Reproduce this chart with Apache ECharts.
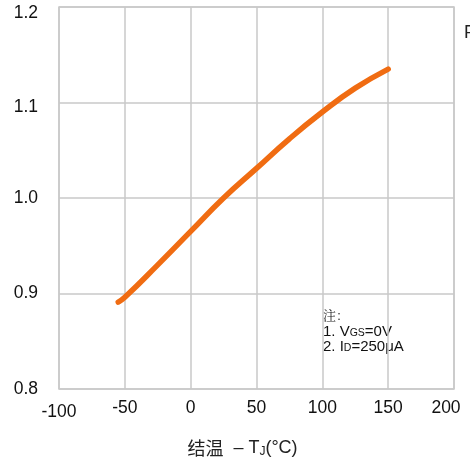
<!DOCTYPE html>
<html>
<head>
<meta charset="utf-8">
<script src="https://cdn.jsdelivr.net/npm/echarts@6/dist/echarts.min.js"></script>
<style>
html,body{margin:0;padding:0;background:#fff;}
#c{width:470px;height:464px;}
</style>
</head>
<body>
<div id="c"></div>
<script>
var temps = [-55, -50, -25, 0, 25, 50, 75, 100, 125, 150];
var ratio = [0.891, 0.896, 0.930, 0.965, 1.000, 1.031, 1.062, 1.090, 1.115, 1.135];
var xTicks = [-100, -50, 0, 50, 100, 150, 200];
var yTicks = [0.8, 0.9, 1.0, 1.1, 1.2];

var chart = echarts.init(document.getElementById('c'));
var font = 'Liberation Sans, Arial, sans-serif';
var fs = 17.5;
chart.setOption({
  animation: false,
  grid: { left: 59, top: 7, right: 16, bottom: 75, show: true, borderColor: '#c8c8c8', borderWidth: 1.5 },
  xAxis: {
    type: 'value', min: xTicks[0], max: xTicks[xTicks.length - 1], interval: 50,
    axisLine: { show: false }, axisTick: { show: false },
    splitLine: { show: true, lineStyle: { color: '#c8c8c8', width: 1.5 } },
    axisLabel: {
      margin: 10, color: '#111', fontSize: fs, fontFamily: font,
      formatter: function (v) {
        if (v === -100) return '{lo|' + v + '}';
        if (v === 200) return '{rt|' + v + '}';
        return '{n|' + v + '}';
      },
      rich: {
        n: { fontSize: fs, fontFamily: font, color: '#111' },
        lo: { fontSize: fs, fontFamily: font, color: '#111', padding: [4, 0, 0, 0] },
        rt: { fontSize: fs, fontFamily: font, color: '#111', padding: [0, 16, 0, 0] }
      }
    },
    name: '{a|结温}{b|  – T}{s|J}{b|(°C)}',
    nameLocation: 'middle', nameGap: 50,
    nameTextStyle: {
      padding: [0, 28, 0, 0],
      rich: {
        a: { fontSize: 18, fontFamily: 'Noto Sans CJK SC, sans-serif', color: '#222' },
        b: { fontSize: 18, fontFamily: font, color: '#222' },
        s: { fontSize: 12, fontFamily: font, color: '#222', padding: [7, 0, 0, 0] }
      }
    }
  },
  yAxis: {
    type: 'value', min: yTicks[0], max: yTicks[yTicks.length - 1], interval: 0.1,
    axisLine: { show: false }, axisTick: { show: false },
    splitLine: { show: true, lineStyle: { color: '#c8c8c8', width: 1.5 } },
    axisLabel: {
      margin: 21, color: '#111', fontSize: fs, fontFamily: font,
      formatter: function (v) {
        var t = v.toFixed(1);
        if (t === '1.2') return '{t2|' + t + '}';
        if (t === '1.1') return '{t1|' + t + '}';
        return '{n|' + t + '}';
      },
      rich: {
        n: { fontSize: fs, fontFamily: font, color: '#111' },
        t1: { fontSize: fs, fontFamily: font, color: '#111', padding: [9, 0, 0, 0] },
        t2: { fontSize: fs, fontFamily: font, color: '#111', padding: [12, 0, 0, 0] }
      }
    }
  },
  series: [{
    type: 'line',
    data: temps.map(function (t, i) { return [t, ratio[i]]; }),
    smooth: true, showSymbol: false,
    lineStyle: { color: '#f06c12', width: 5.5, cap: 'round' }
  }],
  graphic: [
    { type: 'text', left: 323, top: 309, style: { text: '注：', font: '13px "Noto Serif CJK SC", "Noto Sans CJK SC", serif', fill: '#222' } },
    { type: 'text', left: 323, top: 324, style: {
      text: '{a|1. V}{s|GS}{a|=0V}',
      rich: { a: { fontSize: 15, fontFamily: font, fill: '#111' }, s: { fontSize: 10.5, fontFamily: font, fill: '#111', padding: [4, 0, 0, 0] } }
    } },
    { type: 'text', left: 323, top: 339, style: {
      text: '{a|2. I}{s|D}{a|=250μA}',
      rich: { a: { fontSize: 15, fontFamily: font, fill: '#111' }, s: { fontSize: 10.5, fontFamily: font, fill: '#111', padding: [4, 0, 0, 0] } }
    } },
    { type: 'text', left: 464, top: 24, style: { text: 'F', font: '18px Liberation Sans, Arial, sans-serif', fill: '#222' } }
  ]
});
</script>
</body>
</html>
